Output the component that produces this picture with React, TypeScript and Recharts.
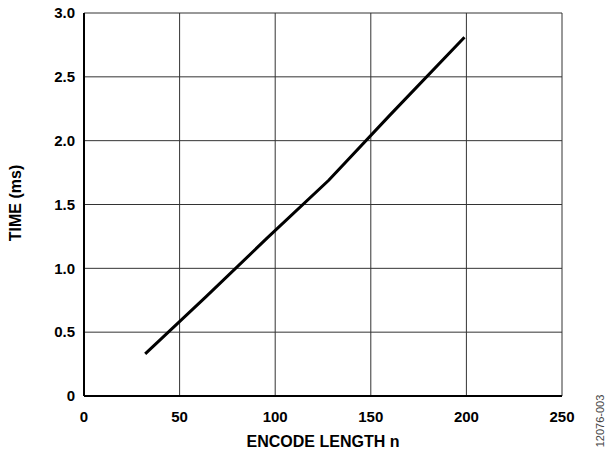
import { LineChart, Line, XAxis, YAxis, CartesianGrid, Label } from "recharts";

// encode length n
const encodeLength = [32, 64, 96, 128, 160, 199];
// time (ms)
const timeMs = [0.33, 0.78, 1.24, 1.69, 2.2, 2.81];

const xTicks = [0, 50, 100, 150, 200, 250];
const yTicks = [0, 0.5, 1.0, 1.5, 2.0, 2.5, 3.0];

const data = encodeLength.map((n, i) => ({ n, time: timeMs[i] }));

const font = "'Liberation Sans', Arial, sans-serif";

const formatY = (v: number) => (v === 0 ? "0" : v.toFixed(1));

export default function App() {
  return (
    <div style={{ position: "absolute", left: 0, top: 0, width: 607, height: 451, background: "#fff" }}>
      <LineChart
        width={607}
        height={451}
        data={data}
        margin={{ top: 13, right: 45, bottom: 0, left: 0 }}
        style={{ fontFamily: font }}
      >
        <CartesianGrid stroke="#333" strokeWidth={1} />
        <XAxis
          dataKey="n"
          type="number"
          domain={[0, 250]}
          ticks={xTicks}
          height={55}
          tickLine={false}
          tickMargin={9}
          axisLine={{ stroke: "#000", strokeWidth: 2 }}
          tick={{ fill: "#000", fontSize: 15, fontWeight: "bold" }}
        >
          <Label
            value="ENCODE LENGTH n"
            position="insideBottom"
            offset={4}
            style={{ fill: "#000", fontSize: 16, fontWeight: "bold" }}
          />
        </XAxis>
        <XAxis
          xAxisId="top"
          orientation="top"
          type="number"
          domain={[0, 250]}
          height={0}
          tick={false}
          tickLine={false}
          axisLine={{ stroke: "#000", strokeWidth: 2 }}
        />
        <YAxis
          type="number"
          domain={[0, 3]}
          ticks={yTicks}
          width={84}
          tickLine={false}
          tickMargin={3}
          tickFormatter={formatY}
          axisLine={{ stroke: "#000", strokeWidth: 2 }}
          tick={{ fill: "#000", fontSize: 15, fontWeight: "bold" }}
        >
          <Label
            content={() => (
              <text
                transform="translate(15,203) rotate(-90)"
                textAnchor="middle"
                dominantBaseline="central"
                fill="#000"
                fontSize={16}
                fontWeight="bold"
                fontFamily={font}
              >
                TIME (ms)
              </text>
            )}
          />
        </YAxis>
        <YAxis
          yAxisId="right"
          orientation="right"
          type="number"
          domain={[0, 3]}
          width={0}
          tick={false}
          tickLine={false}
          axisLine={{ stroke: "#000", strokeWidth: 2 }}
        />
        <Line
          type="linear"
          dataKey="time"
          stroke="#000"
          strokeWidth={3}
          dot={false}
          isAnimationActive={false}
        />
      </LineChart>
      <div
        style={{
          position: "absolute",
          left: 600,
          top: 421,
          transform: "translate(-50%, -50%) rotate(-90deg)",
          fontFamily: font,
          fontSize: 11,
          color: "#444",
          whiteSpace: "nowrap",
        }}
      >
        12076-003
      </div>
    </div>
  );
}
